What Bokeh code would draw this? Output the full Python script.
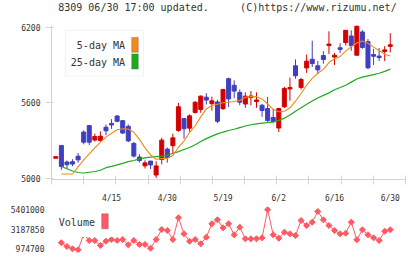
import math
from bokeh.plotting import figure
from bokeh.models import Range1d, FixedTicker, Label, BoxAnnotation, ColumnDataSource
from bokeh.layouts import column
from bokeh.embed import file_html
from bokeh.resources import INLINE

nan = float("nan")

# ---------------- data ----------------
day_index = list(range(61))
opens = [5169, 5263, 5133, 5135, 5179, 5370, 5421, 5307, 5303, 5408,
         5437, 5497, 5460, 5415, 5280, 5172, 5103, 5140, 5030, 5153,
         5235, 5262, 5383, 5477, 5401, 5525, 5549, 5646, 5595, 5608,
         5555, 5792, 5740, 5684, 5592, 5646, 5613, 5582, 5556, 5485,
         5402, 5570, 5712, 5894, 5723, 5877, 5946, 5894, 5975, 6058,
         5963, 6037, 6078, 6130, 5978, 6162, 6085, 5983, 5970, 6012,
         6052]
highs = [5171, 5268, 5145, 5155, 5204, 5383, 5426, 5357, 5375, 5430,
         5472, 5503, 5465, 5430, 5293, 5195, 5146, 5142, 5138, 5324,
         5248, 5357, 5600, 5480, 5510, 5614, 5660, 5677, 5650, 5625,
         5712, 5800, 5779, 5707, 5684, 5694, 5684, 5592, 5648, 5554,
         5562, 5728, 5800, 5945, 5798, 5983, 6093, 5932, 6010, 6167,
         5996, 6073, 6178, 6175, 6215, 6175, 6106, 6029, 6034, 6050,
         6152]
lows = [5167, 5071, 5080, 5100, 5127, 5273, 5268, 5294, 5295, 5345,
        5395, 5447, 5355, 5290, 5168, 5130, 5082, 5078, 5007, 5115,
        5128, 5200, 5372, 5318, 5372, 5516, 5522, 5588, 5540, 5440,
        5545, 5567, 5638, 5582, 5562, 5582, 5562, 5490, 5450, 5440,
        5370, 5560, 5618, 5792, 5707, 5838, 5885, 5828, 5910, 5988,
        5901, 5996, 6055, 6012, 5975, 6029, 5868, 5901, 5932, 5932,
        6000]
closes = [5169, 5097, 5112, 5117, 5150, 5290, 5290, 5335, 5337, 5380,
          5428, 5455, 5362, 5300, 5180, 5145, 5126, 5110, 5102, 5306,
          5168, 5324, 5570, 5396, 5498, 5606, 5654, 5623, 5617, 5455,
          5707, 5632, 5694, 5606, 5654, 5652, 5622, 5541, 5462, 5453,
          5556, 5715, 5722, 5815, 5786, 5931, 5912, 5862, 5944, 6062,
          5978, 6024, 6175, 6054, 6208, 6039, 5878, 5970, 5960, 6016,
          6056]
ma5 = [nan, 5038, 5038, 5038, 5095, 5150, 5198, 5245, 5290, 5330,
       5360, 5388, 5396, 5394, 5368, 5312, 5245, 5190, 5155, 5160,
       5162, 5184, 5250, 5298, 5368, 5420, 5490, 5553, 5580, 5590,
       5602, 5606, 5612, 5620, 5645, 5650, 5650, 5632, 5592, 5550,
       5530, 5535, 5562, 5614, 5675, 5742, 5795, 5835, 5866, 5920,
       5950, 5968, 6010, 6045, 6075, 6090, 6073, 6042, 6015, 5985,
       5972]
ma25 = [nan, 5097, 5080, 5062, 5050, 5046, 5052, 5058, 5068, 5088,
        5098, 5110, 5122, 5136, 5145, 5158, 5166, 5171, 5175, 5180,
        5188, 5200, 5215, 5232, 5248, 5270, 5295, 5318, 5338, 5356,
        5370, 5382, 5392, 5405, 5418, 5428, 5435, 5441, 5445, 5450,
        5462, 5480, 5505, 5535, 5562, 5590, 5615, 5640, 5660, 5680,
        5705, 5722, 5740, 5765, 5790, 5805, 5815, 5825, 5835, 5850,
        5868]
volume = [nan, 1650000, 1234000, 975000, 862000, 2585000, 1909000, 1909000, 1346000, 1830000,
          2022000, 1909000, 2022000, 1425000, 1909000, 1459000, 1459000, 1042000, 2022000, 3148000,
          3035000, 2022000, 4465000, 2664000, 1830000, 2022000, 1538000, 2281000, 3790000, 4240000,
          3339000, 3790000, 2551000, 3407000, 2101000, 2101000, 2101000, 2213000, 5366000, 2551000,
          2168000, 2844000, 2664000, 2472000, 4161000, 3598000, 3970000, 5175000, 4240000, 3598000,
          3035000, 2664000, 2731000, 3970000, 1988000, 3114000, 2551000, 2213000, 1909000, 2957000,
          3114000]
tick_idx = [10, 20, 30, 40, 50, 60]
tick_labels = ["4/15", "4/30", "5/19", "6/2", "6/16", "6/30"]
price_ticks = [5000, 5600, 6200]
volume_ticks = [974700, 3187850, 5401000]
header_left = "8309 06/30 17:00 updated."
header_right = "(C)https://www.rizumu.net/"

# ---------------- styling / layout constants ----------------
RED = "#d40000"
BLUE = "#3f3fbf"
ORANGE = "#f08a1c"
GREEN = "#1eaa1e"
VOLC = "#ff5a64"
AXC = "#d4d4d4"
TXT = "#333333"
MONO = "DejaVu Sans Mono"

HH = 14                      # header strip height
FL, FR = 51, 405
X0, X1 = -0.771, 62.73
FT, FB = 25, 184
Y0, Y1 = 4994.6, 6213.0
VT, VB = 205, 252
V0, V1 = 558080, 5850300


def px_x(px):
    return X0 + (px - FL) * (X1 - X0) / (FR - FL)


def py_main(py):
    return Y1 - (py - FT) * (Y1 - Y0) / (FB - FT)


def py_vol(py):
    return V1 - (py - VT) * (V1 - V0) / (VB - VT)


yen_per_px = (Y1 - Y0) / (FB - FT)
body_top, body_bot, colors = [], [], []
for o, c in zip(opens, closes):
    t, b = max(o, c), min(o, c)
    if t - b < 1.6 * yen_per_px:
        m = (t + b) / 2
        t, b = m + 0.8 * yen_per_px, m - 0.8 * yen_per_px
    body_top.append(t)
    body_bot.append(b)
    colors.append(RED if c >= o else BLUE)

src = ColumnDataSource(dict(x=day_index, top=body_top, bot=body_bot, hi=highs, lo=lows,
                            color=colors, ma5=ma5, ma25=ma25, vol=volume))

xr = Range1d(X0, X1)

# ---------------- header strip ----------------
ph = figure(width=420, height=HH, x_range=Range1d(0, 420), y_range=Range1d(HH, 0),
            output_backend="svg", toolbar_location=None,
            x_axis_location=None, y_axis_location=None,
            min_border_left=0, min_border_right=0, min_border_top=0, min_border_bottom=0)
ph.outline_line_color = None
ph.grid.visible = False
ph.add_layout(Label(x=8, y=6.9, text=header_left, text_font=MONO, text_font_size="10px",
                    text_color=TXT, text_align="left", text_baseline="middle"))
ph.add_layout(Label(x=409.5, y=6.9, text=header_right, text_font=MONO, text_font_size="10px",
                    text_color=TXT, text_align="right", text_baseline="middle"))

# ---------------- price chart ----------------
p = figure(width=420, height=205 - HH, x_range=xr, y_range=Range1d(Y0, Y1),
           output_backend="svg", toolbar_location=None,
           min_border_left=FL, min_border_right=420 - FR, min_border_top=FT - HH,
           min_border_bottom=205 - FB)
p.outline_line_color = None
p.grid.visible = False
p.background_fill_color = "white"
p.border_fill_color = "white"

p.segment(x0="x", y0="lo", x1="x", y1="hi", line_color="color", line_width=1, source=src)
p.vbar(x="x", width=0.72, top="top", bottom="bot", fill_color="color", line_color="color",
       line_width=1, source=src)
p.line(x="x", y="ma25", line_color=GREEN, line_width=1.2, source=src)
p.line(x="x", y="ma5", line_color=ORANGE, line_width=1.1, source=src)

minor = [X0 + 0.005 + k * (X1 - X0 - 0.01) / 11 for k in range(12)]
xa = p.xaxis[0]
xa.ticker = FixedTicker(ticks=tick_idx, minor_ticks=minor)
xa.major_label_overrides = {t: l for t, l in zip(tick_idx, tick_labels)}
xa.major_tick_line_color = None
xa.major_tick_in = 0
xa.major_tick_out = 0
xa.minor_tick_in = 4
xa.minor_tick_out = 5
xa.minor_tick_line_color = AXC
xa.axis_line_color = AXC
xa.major_label_standoff = 9
xa.major_label_text_font = MONO
xa.major_label_text_font_size = "8px"
xa.major_label_text_color = TXT

ya = p.yaxis[0]
ya.ticker = FixedTicker(ticks=price_ticks, minor_ticks=[])
ya.major_tick_in = 2
ya.major_tick_out = 6
ya.major_tick_line_color = AXC
ya.minor_tick_line_color = None
ya.axis_line_color = AXC
ya.major_label_standoff = 5
ya.major_label_text_font = MONO
ya.major_label_text_font_size = "8px"
ya.major_label_text_color = TXT

# MA legend box
p.add_layout(BoxAnnotation(left=px_x(65), right=px_x(143), top=py_main(30), bottom=py_main(77),
                           fill_color="white", fill_alpha=1, line_color="#d8d8d8", line_width=1))
for txt, cy, sw_top, sw_bot, col in [("5-day MA", 46, 37.3, 52.7, ORANGE),
                                     ("25-day MA", 63.3, 54.3, 70, GREEN)]:
    p.add_layout(Label(x=px_x(124.5), y=py_main(cy), text=txt, text_font=MONO,
                       text_font_size="10px", text_color=TXT, text_align="right",
                       text_baseline="middle"))
    p.add_layout(BoxAnnotation(left=px_x(131.2), right=px_x(137.8), top=py_main(sw_top),
                               bottom=py_main(sw_bot), fill_color=col, fill_alpha=1,
                               line_color="#444444", line_width=1))

# ---------------- volume chart ----------------
pv = figure(width=420, height=54, x_range=xr, y_range=Range1d(V0, V1),
            output_backend="svg", toolbar_location=None, x_axis_location=None,
            min_border_left=FL, min_border_right=420 - FR, min_border_top=0,
            min_border_bottom=259 - VB)
pv.outline_line_color = None
pv.grid.visible = False
pv.background_fill_color = "white"
pv.border_fill_color = "white"

pv.line(x="x", y="vol", line_color=VOLC, line_width=1, source=src)
pv.scatter(x="x", y="vol", marker="square", angle=math.pi / 4, size=4.3,
           fill_color=VOLC, line_color=VOLC, line_width=1, source=src)

va = pv.yaxis[0]
va.ticker = FixedTicker(ticks=volume_ticks, minor_ticks=[])
va.major_label_overrides = {v: str(v) for v in volume_ticks}
va.axis_line_color = None
va.major_tick_line_color = None
va.minor_tick_line_color = None
va.major_tick_in = 0
va.major_tick_out = 0
va.major_label_standoff = 7
va.major_label_text_font = MONO
va.major_label_text_font_size = "8px"
va.major_label_text_color = TXT

# volume legend (white backing box)
pv.add_layout(BoxAnnotation(left=px_x(51.5), right=px_x(112), top=py_vol(205.5), bottom=py_vol(236.6),
                            fill_color="white", fill_alpha=1, line_color=None))
pv.add_layout(Label(x=px_x(58.3), y=py_vol(221.7), text="Volume", text_font=MONO,
                    text_font_size="10px", text_color=TXT, text_align="left",
                    text_baseline="middle"))
pv.add_layout(BoxAnnotation(left=px_x(101.2), right=px_x(107.8), top=py_vol(213.3),
                            bottom=py_vol(228.3), fill_color=VOLC, fill_alpha=1,
                            line_color="#444444", line_width=1))

layout = column(ph, p, pv, spacing=0)
open("out.html", "w").write(file_html(layout, INLINE))
